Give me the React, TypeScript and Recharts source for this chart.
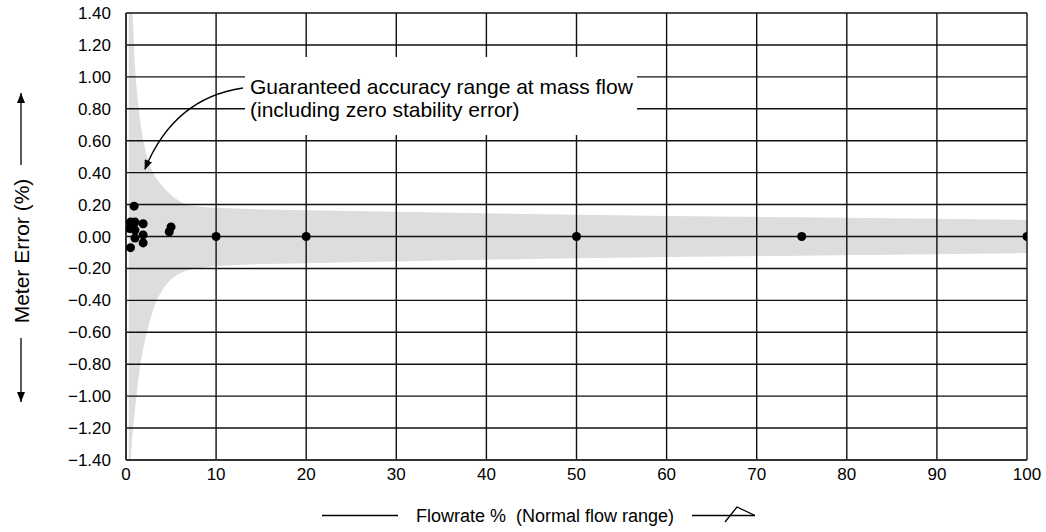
import { ComposedChart, Area, Scatter, XAxis, YAxis, CartesianGrid } from 'recharts'

// flowrate % ticks and meter error ticks
const flowTicks = [0, 10, 20, 30, 40, 50, 60, 70, 80, 90, 100]
const errTicks = [-1.4, -1.2, -1.0, -0.8, -0.6, -0.4, -0.2, 0, 0.2, 0.4, 0.6, 0.8, 1.0, 1.2, 1.4]

// guaranteed accuracy band
const bandFlow = [0.3, 0.5, 0.7, 0.8, 1.0, 1.2, 1.5, 2.0, 2.5, 3.0, 4.0, 5.0, 6.0, 7.0, 8.5, 10, 20, 30, 50, 75, 100]
const bandUpper = [1.4, 1.4, 1.4, 1.3, 1.06, 0.92, 0.76, 0.58, 0.47, 0.4, 0.32, 0.26, 0.22, 0.195, 0.185, 0.18, 0.165, 0.155, 0.136, 0.12, 0.104]
const bandLower = [-1.4, -1.4, -1.25, -1.19, -1.08, -0.98, -0.84, -0.68, -0.56, -0.46, -0.34, -0.27, -0.23, -0.21, -0.195, -0.185, -0.167, -0.157, -0.136, -0.12, -0.104]

// measured points
const pointFlow = [0.9, 0.5, 1.0, 1.9, 0.4, 1.0, 1.9, 1.0, 1.9, 0.5, 5.0, 4.8, 10, 20, 50, 75, 100]
const pointErr = [0.19, 0.09, 0.09, 0.08, 0.05, 0.04, 0.01, -0.01, -0.04, -0.07, 0.06, 0.03, 0, 0, 0, 0, 0]

const bandData = bandFlow.map((f, i) => ({ flow: f, band: [bandLower[i], bandUpper[i]] }))
const pointData = pointFlow.map((f, i) => ({ flow: f, err: pointErr[i] }))

const FONT = '"Liberation Sans", Arial, Helvetica, sans-serif'

const fmtErr = (v: number) => {
  const s = Math.abs(v).toFixed(2)
  return v < -0.001 ? '\u2212' + s : s
}

export default function App() {
  return (
    <div style={{ position: 'absolute', left: 0, top: 0, width: 1046, height: 532, background: '#fff', fontFamily: FONT }}>
      <ComposedChart
        width={1046}
        height={532}
        margin={{ top: 13, right: 19, bottom: 42, left: 0 }}
        style={{ fontFamily: FONT }}
      >
        <XAxis
          type="number"
          dataKey="flow"
          domain={[0, 100]}
          ticks={flowTicks}
          allowDataOverflow
          height={30}
          tickLine={false}
          tickSize={6}
          tickMargin={2}
          axisLine={{ stroke: '#333', strokeWidth: 2 }}
          tick={{ fill: '#000', fontSize: 17, fontFamily: FONT }}
        />
        <YAxis
          type="number"
          dataKey="err"
          domain={[-1.4, 1.4]}
          ticks={errTicks}
          allowDataOverflow
          width={126}
          tickLine={false}
          tickSize={6}
          tickMargin={9}
          tickFormatter={fmtErr}
          axisLine={{ stroke: '#333', strokeWidth: 2 }}
          tick={{ fill: '#000', fontSize: 17, fontFamily: FONT }}
        />
        <Area
          data={bandData}
          dataKey="band"
          type="monotone"
          fill="#dcdddd"
          fillOpacity={1}
          stroke="none"
          dot={false}
          activeDot={false}
          isAnimationActive={false}
        />
        <CartesianGrid stroke="#111" strokeWidth={1.4} zIndex={150} />
        <Scatter data={pointData} fill="#000" isAnimationActive={false} />
      </ComposedChart>

      {/* annotations drawn over the chart */}
      <svg
        width={1046}
        height={532}
        style={{ position: 'absolute', left: 0, top: 0, pointerEvents: 'none' }}
      >
        <defs>
          <marker id="ah" markerWidth="10" markerHeight="8" refX="9" refY="4" orient="auto" markerUnits="userSpaceOnUse">
            <path d="M0,0 L10,4 L0,8 z" fill="#000" />
          </marker>
          <marker id="up" markerWidth="8" markerHeight="10" refX="4" refY="0" orient="0" markerUnits="userSpaceOnUse">
            <path d="M0,10 L4,0 L8,10 z" fill="#000" />
          </marker>
          <marker id="down" markerWidth="8" markerHeight="10" refX="4" refY="10" orient="0" markerUnits="userSpaceOnUse">
            <path d="M0,0 L4,10 L8,0 z" fill="#000" />
          </marker>
        </defs>

        <rect x={245} y={57} width={392} height={78} fill="#fff" />
        <text x={250} y={94} fontSize={21} fill="#000" fontFamily={FONT}>
          Guaranteed accuracy range at mass flow
        </text>
        <text x={250} y={117} fontSize={21} fill="#000" fontFamily={FONT}>
          (including zero stability error)
        </text>
        <path d="M243,88 Q174,98 145,169" fill="none" stroke="#000" strokeWidth={1.3} markerEnd="url(#ah)" />

        {/* y axis title */}
        <line x1={21} y1={165} x2={21} y2={93} stroke="#000" strokeWidth={1.3} markerEnd="url(#up)" />
        <line x1={21} y1={338} x2={21} y2={402} stroke="#000" strokeWidth={1.3} markerEnd="url(#down)" />
        <text
          x={21}
          y={251}
          fontSize={21}
          fill="#000"
          fontFamily={FONT}
          textAnchor="middle"
          dominantBaseline="central"
          transform="rotate(-90 21 251)"
        >
          Meter Error (%)
        </text>

        {/* x axis title */}
        <line x1={322} y1={515.5} x2={398} y2={515.5} stroke="#000" strokeWidth={1.3} />
        <text x={416} y={521.5} fontSize={18} fill="#000" fontFamily={FONT}>
          {'Flowrate %\u00a0\u00a0(Normal flow range)'}
        </text>
        <line x1={692} y1={515.5} x2={755} y2={515.5} stroke="#000" strokeWidth={1.3} />
        <polyline points="725,522 737,507 755,515.5" fill="none" stroke="#000" strokeWidth={1.3} />
      </svg>
    </div>
  )
}
